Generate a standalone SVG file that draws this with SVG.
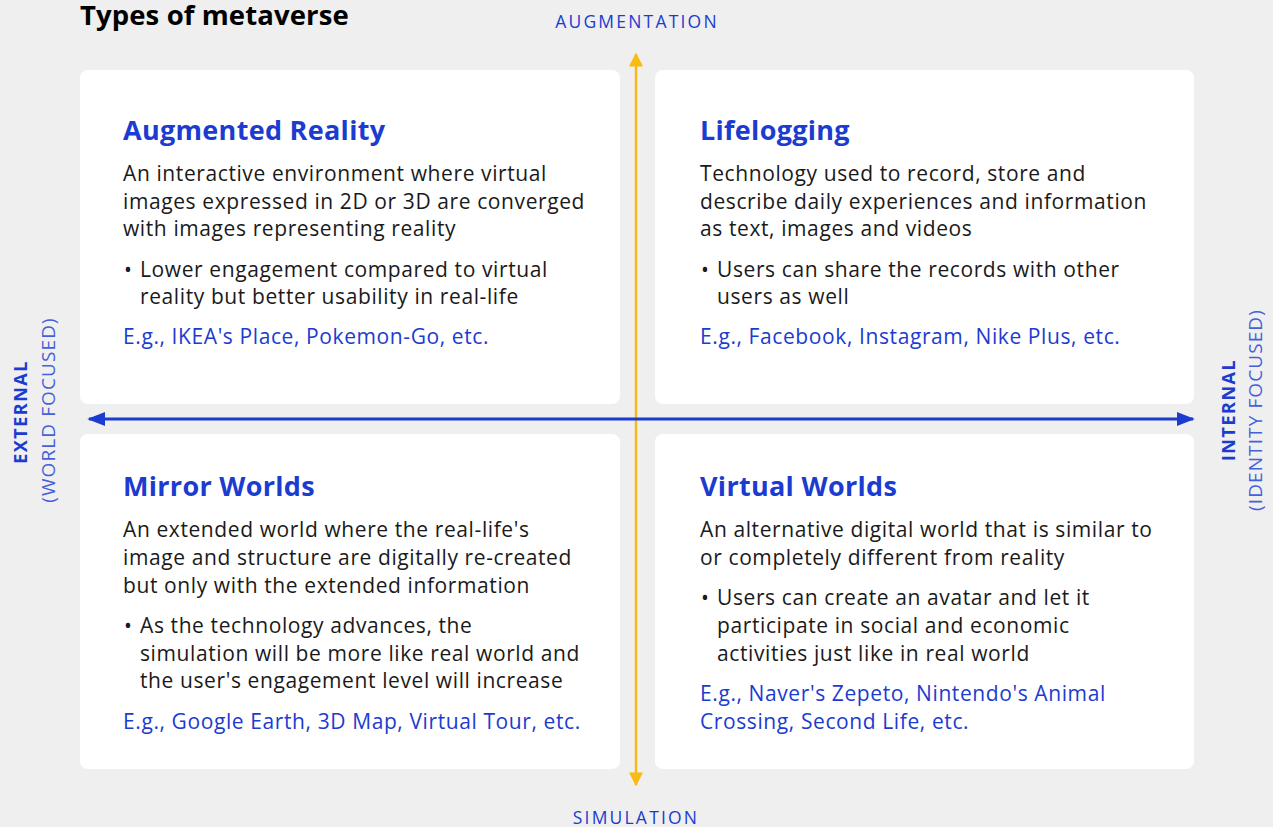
<svg xmlns="http://www.w3.org/2000/svg" width="1273" height="827" viewBox="0 0 1273 827">
<defs>
<style>
.card{fill:#ffffff}
.h{font-family:"Open Sans","Liberation Sans",sans-serif;font-weight:bold;font-size:27px;fill:#1c3bd0;letter-spacing:0.3px}
.b{font-family:"Open Sans","Liberation Sans",sans-serif;font-size:21px;fill:#1a1a1a;letter-spacing:0.6px}
.e{font-family:"Open Sans","Liberation Sans",sans-serif;font-size:21px;fill:#1c3bd0;letter-spacing:0.6px}
.ax{font-family:"Open Sans","Liberation Sans",sans-serif;font-size:17.5px;fill:#1c3bd0;letter-spacing:2.2px}
.axb{font-family:"Open Sans","Liberation Sans",sans-serif;font-size:18px;font-weight:bold;fill:#1c3bd0;letter-spacing:1.5px}
.axl{font-family:"Open Sans","Liberation Sans",sans-serif;font-size:19px;font-weight:normal;fill:#4561da;letter-spacing:1.1px}
</style>
<marker id="ay" viewBox="0 0 10 10" refX="9" refY="5" markerWidth="14" markerHeight="14" markerUnits="userSpaceOnUse" orient="auto-start-reverse"><path d="M0,0 L10,5 L0,10 z" fill="#f8bb14"/></marker>
<marker id="ab" viewBox="0 0 10 10" refX="9" refY="5" markerWidth="18" markerHeight="14" markerUnits="userSpaceOnUse" orient="auto-start-reverse" preserveAspectRatio="none"><path d="M0,0 L10,5 L0,10 z" fill="#1c3bd0"/></marker>
</defs>
<rect width="1273" height="827" fill="#efefef"/>
<text x="80" y="25" font-family="Open Sans,Liberation Sans,sans-serif" font-weight="bold" font-size="27.5" letter-spacing="0.1" fill="#000">Types of metaverse</text>

<g id="ar">
<rect class="card" x="80" y="70" width="540" height="334" rx="8"/>
<text class="h" x="123" y="140">Augmented Reality</text>
<text class="b" x="123" y="181">An interactive environment where virtual</text>
<text class="b" x="123" y="209">images expressed in 2D or 3D are converged</text>
<text class="b" x="123" y="236">with images representing reality</text>
<text class="b" x="124" y="277">•</text>
<text class="b" x="140" y="277">Lower engagement compared to virtual</text>
<text class="b" x="140" y="304">reality but better usability in real-life</text>
<text class="e" x="123" y="344">E.g., IKEA's Place, Pokemon-Go, etc.</text>
</g>

<g id="lifelogging">
<rect class="card" x="655" y="70" width="539" height="334" rx="8"/>
<text class="h" x="700" y="140">Lifelogging</text>
<text class="b" x="700" y="181">Technology used to record, store and</text>
<text class="b" x="700" y="209">describe daily experiences and information</text>
<text class="b" x="700" y="236">as text, images and videos</text>
<text class="b" x="701" y="277">•</text>
<text class="b" x="717" y="277">Users can share the records with other</text>
<text class="b" x="717" y="304">users as well</text>
<text class="e" x="700" y="344">E.g., Facebook, Instagram, Nike Plus, etc.</text>
</g>

<g id="mirror">
<rect class="card" x="80" y="434" width="540" height="335" rx="8"/>
<text class="h" x="123" y="496">Mirror Worlds</text>
<text class="b" x="123" y="537">An extended world where the real-life's</text>
<text class="b" x="123" y="565">image and structure are digitally re-created</text>
<text class="b" x="123" y="593">but only with the extended information</text>
<text class="b" x="124" y="633">•</text>
<text class="b" x="140" y="633">As the technology advances, the</text>
<text class="b" x="140" y="661">simulation will be more like real world and</text>
<text class="b" x="140" y="688">the user's engagement level will increase</text>
<text class="e" x="123" y="729">E.g., Google Earth, 3D Map, Virtual Tour, etc.</text>
</g>

<g id="virtual">
<rect class="card" x="655" y="434" width="539" height="335" rx="8"/>
<text class="h" x="700" y="496">Virtual Worlds</text>
<text class="b" x="700" y="537">An alternative digital world that is similar to</text>
<text class="b" x="700" y="565">or completely different from reality</text>
<text class="b" x="701" y="605">•</text>
<text class="b" x="717" y="605">Users can create an avatar and let it</text>
<text class="b" x="717" y="633">participate in social and economic</text>
<text class="b" x="717" y="661">activities just like in real world</text>
<text class="e" x="700" y="701">E.g., Naver's Zepeto, Nintendo's Animal</text>
<text class="e" x="700" y="729">Crossing, Second Life, etc.</text>
</g>

<g id="connectors">
<line x1="636" y1="785" x2="636" y2="54" stroke="#f8bb14" stroke-width="2.5" marker-end="url(#ay)" marker-start="url(#ay)"/>
<line x1="89" y1="419" x2="1193" y2="419" stroke="#1c3bd0" stroke-width="3" marker-end="url(#ab)" marker-start="url(#ab)"/>
</g>

<g id="axis-labels">
<text class="ax" x="637" y="28" text-anchor="middle">AUGMENTATION</text>
<text class="ax" x="636" y="824" text-anchor="middle">SIMULATION</text>
<text class="axb" transform="translate(27,412) rotate(-90)" text-anchor="middle">EXTERNAL</text>
<text class="axl" transform="translate(55,410) rotate(-90)" text-anchor="middle">(WORLD FOCUSED)</text>
<text class="axb" transform="translate(1235,410) rotate(-90)" text-anchor="middle">INTERNAL</text>
<text class="axl" transform="translate(1262,410) rotate(-90)" text-anchor="middle">(IDENTITY FOCUSED)</text>
</g>
</svg>
